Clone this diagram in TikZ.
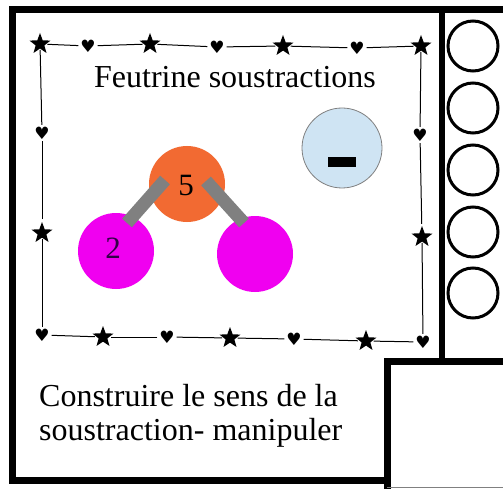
\documentclass[tikz,border=0pt]{standalone}
\usepackage{fontspec}
\setmainfont{Liberation Serif}
\newfontfamily\symbfont{DejaVu Sans}
\usepackage{tikz}
\usetikzlibrary{shapes.geometric,calc}

\definecolor{orangefeutre}{RGB}{242,106,50}
\definecolor{magentafeutre}{RGB}{240,0,240}
\definecolor{bleuclair}{RGB}{207,228,243}
\definecolor{grisbarre}{RGB}{128,128,128}

\tikzset{
    cadre/.style={line width=7pt},
    etoile/.style={star, star points=5, star point ratio=2.4, fill=black, minimum size=22pt, inner sep=0pt, outer sep=1pt},
    coeur/.style={inner sep=0pt, outer sep=2pt, font=\symbfont\fontsize{17}{17}\selectfont},
    ligne/.style={line width=1pt},
    boule/.style={circle, inner sep=0pt, font=\rmfamily\fontsize{31}{31}\selectfont},
    barre/.style={grisbarre, line width=13pt},
    texte/.style={font=\rmfamily\fontsize{32}{34}\selectfont, inner sep=0pt}
}

\begin{document}
\begin{tikzpicture}[x=1pt,y=-1pt]
    \useasboundingbox (0,0) rectangle (503,489);
    \fill[white] (0,0) rectangle (503,489);

    % cadre
    \draw[cadre] (387,480) -- (12,480) -- (12,10) -- (503,10);
    \draw[line width=6pt] (442,10) -- (442,361);
    \draw[cadre] (387,489) -- (387,361) -- (503,361);
    \draw[gray, line width=1pt] (387,487) -- (503,487);

    % pastilles a droite
    \foreach \y in {46,108,170,232,293}
        \draw[line width=3pt] (473,\y) circle (25);

    % bordure decorative
    \node[etoile] (o1) at (40,44) {};
    \node[coeur] (o2) at (88,46) {♥};
    \node[etoile] (o3) at (150,44) {};
    \node[coeur] (o4) at (217,47) {♥};
    \node[etoile] (o5) at (283,46) {};
    \node[coeur] (o6) at (357,48) {♥};
    \node[etoile] (o7) at (421,46) {};
    \node[coeur] (o8) at (420,135) {♥};
    \node[etoile] (o9) at (422,237) {};
    \node[coeur] (o10) at (423,342) {♥};
    \node[etoile] (o11) at (366,341) {};
    \node[coeur] (o12) at (294,339) {♥};
    \node[etoile] (o13) at (230,338) {};
    \node[coeur] (o14) at (167,337) {♥};
    \node[etoile] (o15) at (103,337) {};
    \node[coeur] (o16) at (42,335) {♥};
    \node[etoile] (o17) at (42,233) {};
    \node[coeur] (o18) at (42,133) {♥};
    \foreach \a/\b in {o1/o2,o2/o3,o3/o4,o4/o5,o5/o6,o6/o7,o7/o8,o8/o9,o9/o10,
        o10/o11,o11/o12,o12/o13,o13/o14,o14/o15,o15/o16,o16/o17,o17/o18,o18/o1}
        \draw[ligne] (\a) -- (\b);

    \node[texte, anchor=base] (titre) at (235,88) {Feutrine soustractions};

    % signe moins
    \node[circle, fill=bleuclair, draw=gray, line width=0.8pt, minimum size=80pt] (moins) at (342,148) {};
    \fill (moins.center) ++(-14,9) rectangle ++(28,10);

    % boules
    \node[boule, fill=orangefeutre, minimum size=76pt] (cinq) at (187,184) {};
    \node[boule, fill=magentafeutre, minimum size=76pt] (deux) at (116,251) {};
    \node[boule, fill=magentafeutre, minimum size=76pt] (vide) at (255,254) {};
    \draw[barre] (165,180) -- (127,223);
    \draw[barre] (206,181) -- (244,223);
    \node[boule] at ($(cinq)+(-1,2)$) {5};
    \node[boule, text={rgb,255:red,50;green,0;blue,70}] at ($(deux)+(-3,-3)$) {2};

    \node[texte, anchor=base west, align=left] (sens) at (39,440) {Construire le sens de la\\soustraction- manipuler};
\end{tikzpicture}
\end{document}
